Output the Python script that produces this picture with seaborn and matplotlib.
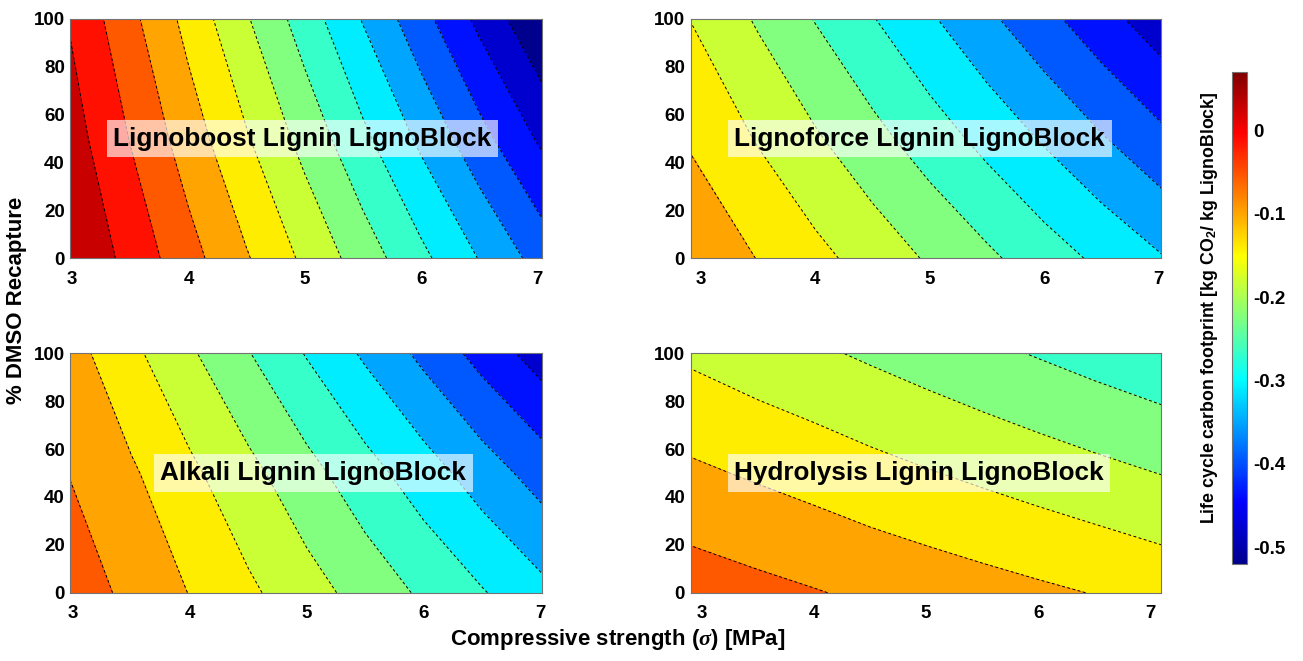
import numpy as np
import matplotlib
matplotlib.use("Agg")
import matplotlib.pyplot as plt
import seaborn as sns
from matplotlib.colors import LinearSegmentedColormap, Normalize
from matplotlib.cm import ScalarMappable
from matplotlib.ticker import MultipleLocator

# grid the carbon footprint was read on: strength [MPa] x DMSO recapture [%]
strength = [2.9, 3.5, 4.0, 4.5, 5.0, 5.5, 6.0, 6.5, 7.1]
recapture = [0, 50, 100]

# life cycle carbon footprint [kg CO2 / kg LignoBlock], one row per recapture value
lignoboost = [
    [0.079, 0.014, -0.041, -0.095, -0.149, -0.203, -0.257, -0.311, -0.376],
    [0.057, -0.016, -0.077, -0.137, -0.197, -0.258, -0.318, -0.379, -0.451],
    [0.035, -0.045, -0.112, -0.179, -0.245, -0.312, -0.379, -0.446, -0.526],
]
lignoforce = [
    [-0.064, -0.100, -0.129, -0.158, -0.188, -0.217, -0.247, -0.276, -0.311],
    [-0.103, -0.144, -0.178, -0.212, -0.246, -0.280, -0.314, -0.348, -0.389],
    [-0.141, -0.188, -0.227, -0.265, -0.304, -0.343, -0.381, -0.420, -0.466],
]
alkali = [
    [-0.028, -0.067, -0.100, -0.133, -0.166, -0.199, -0.232, -0.264, -0.304],
    [-0.053, -0.093, -0.132, -0.171, -0.211, -0.251, -0.290, -0.330, -0.377],
    [-0.075, -0.131, -0.177, -0.223, -0.270, -0.316, -0.362, -0.409, -0.464],
]
hydrolysis = [
    [-0.034, -0.045, -0.054, -0.064, -0.073, -0.082, -0.091, -0.100, -0.112],
    [-0.091, -0.104, -0.115, -0.127, -0.138, -0.149, -0.160, -0.171, -0.184],
    [-0.148, -0.164, -0.176, -0.189, -0.202, -0.215, -0.228, -0.241, -0.256],
]

titles = ["Lignoboost Lignin LignoBlock", "Lignoforce Lignin LignoBlock",
          "Alkali Lignin LignoBlock", "Hydrolysis Lignin LignoBlock"]
xlims = [(2.985, 7.037), (2.909, 7.023), (2.976, 7.012), (2.901, 7.095)]
zmin, zmax = -0.52, 0.07
n_bands = 14
cbar_ticks = [-0.5, -0.4, -0.3, -0.2, -0.1, 0]

sns.set_theme(style="ticks")
plt.rcParams["font.family"] = ["Liberation Sans", "DejaVu Sans"]
plt.rcParams["font.weight"] = "bold"
plt.rcParams["text.color"] = "black"
plt.rcParams["xtick.labelcolor"] = "black"
plt.rcParams["ytick.labelcolor"] = "black"
plt.rcParams["axes.unicode_minus"] = False
plt.rcParams["mathtext.fontset"] = "custom"
plt.rcParams["mathtext.rm"] = "Liberation Sans:bold"
plt.rcParams["mathtext.bf"] = "Liberation Sans:bold"
plt.rcParams["mathtext.it"] = "Liberation Serif:italic"

# MATLAB style jet
jet = LinearSegmentedColormap("mjet", {
    "red": [(0, 0, 0), (0.375, 0, 0), (0.625, 1, 1), (0.875, 1, 1), (1, 0.5, 0.5)],
    "green": [(0, 0, 0), (0.125, 0, 0), (0.375, 1, 1), (0.625, 1, 1), (0.875, 0, 0), (1, 0, 0)],
    "blue": [(0, 0.56, 0.56), (0.125, 1, 1), (0.375, 1, 1), (0.625, 0, 0), (1, 0, 0)],
}, N=256)

levels = np.linspace(zmin, zmax, n_bands + 1)
fill_levels = levels.copy()
fill_levels[0], fill_levels[-1] = -5, 5
band_colors = [jet(k / n_bands) for k in range(n_bands)]

fig = plt.figure(figsize=(13.03, 6.61), dpi=100)
positions = [
    [0.054, 0.6092, 0.3618, 0.3621],
    [0.530, 0.6092, 0.3612, 0.3621],
    [0.054, 0.1033, 0.3618, 0.3622],
    [0.530, 0.1033, 0.3612, 0.3622],
]
box_x = [0.492, 0.487, 0.515, 0.485]

X, Y = np.meshgrid(strength, recapture)
for i, data in enumerate([lignoboost, lignoforce, alkali, hydrolysis]):
    ax = fig.add_axes(positions[i])
    Z = np.array(data)
    ax.contourf(X, Y, Z, levels=fill_levels, colors=band_colors)
    ax.contour(X, Y, Z, levels=levels[1:-1], colors="black",
               linewidths=0.7, linestyles=[(0, (3, 2.5))])
    ax.set_xlim(*xlims[i])
    ax.set_ylim(0, 100)
    ax.set_xticks([3, 4, 5, 6, 7])
    ax.set_yticks([0, 20, 40, 60, 80, 100])
    ax.xaxis.set_minor_locator(MultipleLocator(0.2))
    ax.yaxis.set_minor_locator(MultipleLocator(5))
    ax.tick_params(which="both", direction="in", top=True, right=True,
                   color="0.2", width=0.6)
    ax.tick_params(which="major", length=4, labelsize=13.5)
    ax.tick_params(which="minor", length=2)
    ax.tick_params(axis="x", pad=9)
    ax.tick_params(axis="y", pad=4)
    for s in ax.spines.values():
        s.set_color("0.45")
        s.set_linewidth(0.8)
    ax.text(box_x[i], 0.5, titles[i], transform=ax.transAxes, ha="center",
            va="center", fontsize=18.8, fontweight="bold", color="black",
            bbox=dict(boxstyle="square,pad=0.25", facecolor="white",
                      edgecolor="none", alpha=0.65))

fig.text(0.0125, 0.545, "% DMSO Recapture", rotation=90, ha="center",
         va="center", fontsize=16, fontweight="bold")
fig.text(0.4743, 0.032, r"Compressive strength ($\mathit{\sigma}$) [MPa]",
         ha="center", va="center", fontsize=16, fontweight="bold")

cax = fig.add_axes([0.9457, 0.1467, 0.0115, 0.7448])
sm = ScalarMappable(norm=Normalize(zmin, zmax), cmap=jet)
cb = fig.colorbar(sm, cax=cax, ticks=cbar_ticks)
cb.ax.set_yticklabels([f"{t:g}" for t in cbar_ticks])
cb.ax.tick_params(labelsize=13.5, direction="in", length=4, color="0.2",
                  pad=4, labelcolor="black")
cb.outline.set_edgecolor("0.45")
cb.outline.set_linewidth(0.8)
fig.text(0.928, 0.535,
         r"Life cycle carbon footprint [kg CO$_\mathbf{2}$/ kg LignoBlock]",
         rotation=90, ha="center", va="center", fontsize=12.8, fontweight="bold")

fig.savefig("out.png", dpi=100)
